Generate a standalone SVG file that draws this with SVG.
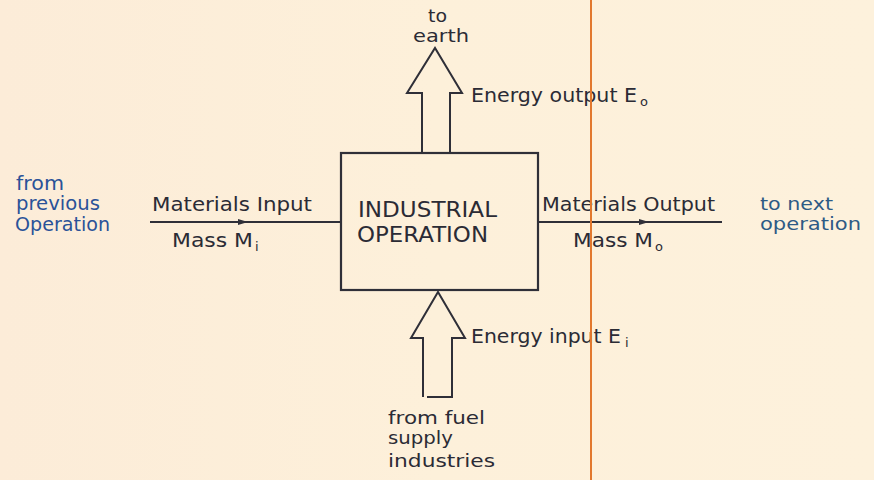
<svg xmlns="http://www.w3.org/2000/svg" width="874" height="480" viewBox="0 0 874 480">
<defs>
<linearGradient id="bg" x1="0" y1="0" x2="1" y2="0">
<stop offset="0" stop-color="#fcecd8"/>
<stop offset="0.5" stop-color="#fdf0da"/>
<stop offset="1" stop-color="#fdf1dc"/>
</linearGradient>
<marker id="ah" viewBox="0 0 10 6" refX="5" refY="3" markerWidth="10" markerHeight="6" markerUnits="userSpaceOnUse" orient="auto">
<path d="M0,0 L10,3 L0,6 Z" fill="#2f2f38"/>
</marker>
<style>
.t{font-family:"DejaVu Sans","Liberation Sans",sans-serif;font-size:20px;fill:#2b2b35}
.bx-t{font-size:22px}
.sm{font-size:18px}
.b{font-family:"DejaVu Sans","Liberation Sans",sans-serif;font-size:19px;fill:#2a5298}
.bn{fill:#2d5a85;font-size:18px}
.s{font-family:"DejaVu Sans","Liberation Sans",sans-serif;font-size:13px;fill:#2b2b35}
.ln{stroke:#2f2f38;stroke-width:2;fill:none}
.bx{stroke:#2f2f38;stroke-width:2.2;fill:none}
</style>
</defs>
<rect width="874" height="480" fill="url(#bg)"/>
<g id="connectors">
<path class="ln" d="M150,222 H341"/>
<path class="ln" d="M233,222 H243" marker-end="url(#ah)"/>
<path class="ln" d="M538,222 H722"/>
<path class="ln" d="M634,222 H644" marker-end="url(#ah)"/>
</g>
<g id="energy-output-arrow">
<path class="ln" d="M422,153 V93 H407 L435,48 L462,93 H450 V153"/>
</g>
<g id="energy-input-arrow">
<path class="ln" d="M423,397 V338 H411 L438,292 L465,338 H452 V397 H427"/>
</g>
<g id="industrial-operation">
<rect class="bx" x="341" y="153" width="197" height="137"/>
<text class="t bx-t" x="358" y="217" textLength="139" lengthAdjust="spacingAndGlyphs">INDUSTRIAL</text>
<text class="t bx-t" x="357" y="242" textLength="131" lengthAdjust="spacingAndGlyphs">OPERATION</text>
</g>
<g id="to-earth">
<text class="t sm" x="428" y="22" textLength="19" lengthAdjust="spacingAndGlyphs">to</text>
<text class="t sm" x="413" y="42" textLength="56" lengthAdjust="spacingAndGlyphs">earth</text>
</g>
<g id="energy-output-label">
<text class="t" x="471" y="102" textLength="166" lengthAdjust="spacingAndGlyphs">Energy output E</text>
<text class="s" x="640" y="106">o</text>
</g>
<g id="from-previous">
<text class="b" x="16" y="190" textLength="48" lengthAdjust="spacingAndGlyphs">from</text>
<text class="b" x="16" y="210" textLength="84" lengthAdjust="spacingAndGlyphs">previous</text>
<text class="b" x="15" y="231" textLength="95" lengthAdjust="spacingAndGlyphs">Operation</text>
</g>
<g id="materials-input">
<text class="t" x="152" y="211" textLength="160" lengthAdjust="spacingAndGlyphs">Materials Input</text>
<text class="t" x="172" y="247" textLength="81" lengthAdjust="spacingAndGlyphs">Mass M</text>
<text class="s" x="255" y="251">i</text>
</g>
<g id="materials-output">
<text class="t" x="542" y="211" textLength="173" lengthAdjust="spacingAndGlyphs">Materials Output</text>
<text class="t" x="573" y="247" textLength="80" lengthAdjust="spacingAndGlyphs">Mass M</text>
<text class="s" x="655" y="251">o</text>
</g>
<g id="to-next">
<text class="b bn" x="760" y="210" textLength="73" lengthAdjust="spacingAndGlyphs">to next</text>
<text class="b bn" x="760" y="230" textLength="101" lengthAdjust="spacingAndGlyphs">operation</text>
</g>
<g id="energy-input-label">
<text class="t" x="471" y="343" textLength="150" lengthAdjust="spacingAndGlyphs">Energy input E</text>
<text class="s" x="625" y="347">i</text>
</g>
<g id="from-fuel">
<text class="t sm" x="388" y="424" textLength="97" lengthAdjust="spacingAndGlyphs">from fuel</text>
<text class="t sm" x="388" y="444" textLength="65" lengthAdjust="spacingAndGlyphs">supply</text>
<text class="t sm" x="388" y="467" textLength="107" lengthAdjust="spacingAndGlyphs">industries</text>
</g>
<line x1="591" y1="0" x2="591" y2="480" stroke="#e2782e" stroke-width="2"/>
</svg>
